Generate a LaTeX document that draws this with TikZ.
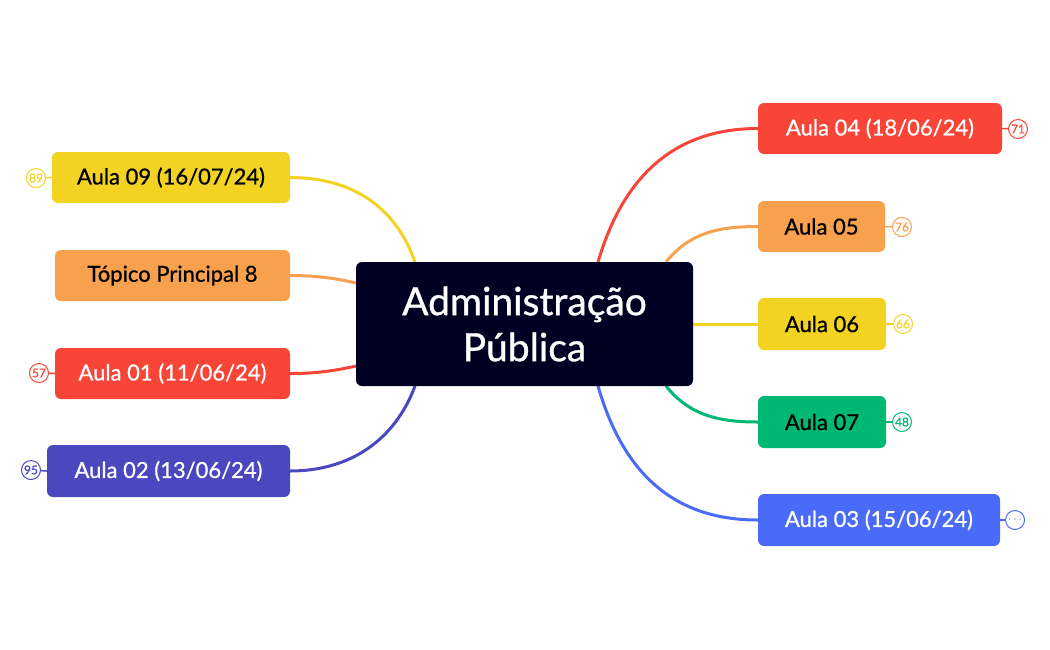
\documentclass[tikz,border=0pt]{standalone}
\usepackage{fontspec}
\setmainfont{Lato}[FakeBold=0.8,AutoFakeBold=0.8]
\definecolor{cnavy}{HTML}{000022}
\definecolor{cred}{HTML}{F94438}
\definecolor{corange}{HTML}{F7A04D}
\definecolor{cyellow}{HTML}{F2D322}
\definecolor{cgreen}{HTML}{00B874}
\definecolor{cblue}{HTML}{4A6BF7}
\definecolor{cpurple}{HTML}{4B47BE}
\begin{document}
\begin{tikzpicture}[x=1pt,y=-1pt,
 topic/.style={rounded corners=6pt,inner sep=0pt,font=\fontsize{22}{26}\selectfont\bfseries},
 badge/.style={circle,draw,line width=1pt,minimum size=19pt,inner sep=0pt,font=\fontsize{12}{13}\selectfont,fill=white},
 conn/.style={line width=3pt}]
\useasboundingbox (0,0) rectangle (1050,649);
\coordinate (s1) at (598,262); \coordinate (s2) at (666,262);
\coordinate (s4) at (666,386); \coordinate (s5) at (598,386);
\coordinate (t1) at (415,262); \coordinate (t2) at (356,283);
\coordinate (t3) at (356,366); \coordinate (t4) at (415,386);
\coordinate (ce) at (693,324);
% right
\node[topic,fill=cred,text=white,minimum width=244pt,minimum height=51pt] (r1) at (880,128.5) {Aula 04 (18/06/24)};
\node[topic,fill=corange,minimum width=127pt,minimum height=51pt] (r2) at (821.5,226.5) {Aula 05};
\node[topic,fill=cyellow,minimum width=128pt,minimum height=52pt] (r3) at (822,324) {Aula 06};
\node[topic,fill=cgreen,minimum width=128pt,minimum height=52pt] (r4) at (822,422) {Aula 07};
\node[topic,fill=cblue,text=white,minimum width=242pt,minimum height=52pt] (r5) at (879,520) {Aula 03 (15/06/24)};
% left
\node[topic,fill=cyellow,minimum width=238pt,minimum height=51pt] (l1) at (171,177.5) {Aula 09 (16/07/24)};
\node[topic,fill=corange,minimum width=235pt,minimum height=51pt] (l2) at (172.5,275.5) {Tópico Principal 8};
\node[topic,fill=cred,text=white,minimum width=235pt,minimum height=51pt] (l3) at (172.5,373.5) {Aula 01 (11/06/24)};
\node[topic,fill=cpurple,text=white,minimum width=243pt,minimum height=52pt] (l4) at (168.5,471) {Aula 02 (13/06/24)};
% connectors
\draw[conn,cred] (s1) .. controls (625,170) and (680,128.5) .. (r1.west);
\draw[conn,corange] (s2) .. controls (690,232) and (720,226.5) .. (r2.west);
\draw[conn,cyellow] (ce) -- (r3.west);
\draw[conn,cgreen] (s4) .. controls (690,416) and (720,422) .. (r4.west);
\draw[conn,cblue] (s5) .. controls (625,480) and (680,520) .. (r5.west);
\draw[conn,cyellow] (t1) .. controls (395,205) and (350,177.5) .. (l1.east);
\draw[conn,corange] (t2) .. controls (330,277) and (310,275.5) .. (l2.east);
\draw[conn,cred] (t3) .. controls (330,372) and (310,373.5) .. (l3.east);
\draw[conn,cpurple] (t4) .. controls (395,440) and (350,471) .. (l4.east);
% central
\node[topic,fill=cnavy,text=white,minimum width=337pt,minimum height=124pt,align=center,font=\fontsize{39}{46}\selectfont\bfseries] (c) at (524.5,324) {Administração\\Pública};
% badges
\node[badge,draw=cred,text=cred] (b1) at (1018,129) {71};
\node[badge,draw=corange,text=corange] (b2) at (902,227) {76};
\node[badge,draw=cyellow,text=cyellow] (b3) at (903,324) {66};
\node[badge,draw=cgreen,text=cgreen] (b4) at (902,422) {48};
\node[badge,draw=cblue,text=cblue] (b5) at (1015,520) {$\cdots$};
\node[badge,draw=cyellow,text=cyellow] (b6) at (36,178) {89};
\node[badge,draw=cred,text=cred] (b7) at (39,373) {57};
\node[badge,draw=cpurple,text=cpurple] (b8) at (31,470) {95};
\draw[line width=1.5pt,cred] (r1.east) -- (b1);
\draw[line width=1.5pt,corange] (r2.east) -- (b2);
\draw[line width=1.5pt,cyellow] (r3.east) -- (b3);
\draw[line width=1.5pt,cgreen] (r4.east) -- (b4);
\draw[line width=1.5pt,cblue] (r5.east) -- (b5);
\draw[line width=1.5pt,cyellow] (l1.west) -- (b6);
\draw[line width=1.5pt,cred] (l3.west) -- (b7);
\draw[line width=1.5pt,cpurple] (l4.west) -- (b8);
\end{tikzpicture}
\end{document}
